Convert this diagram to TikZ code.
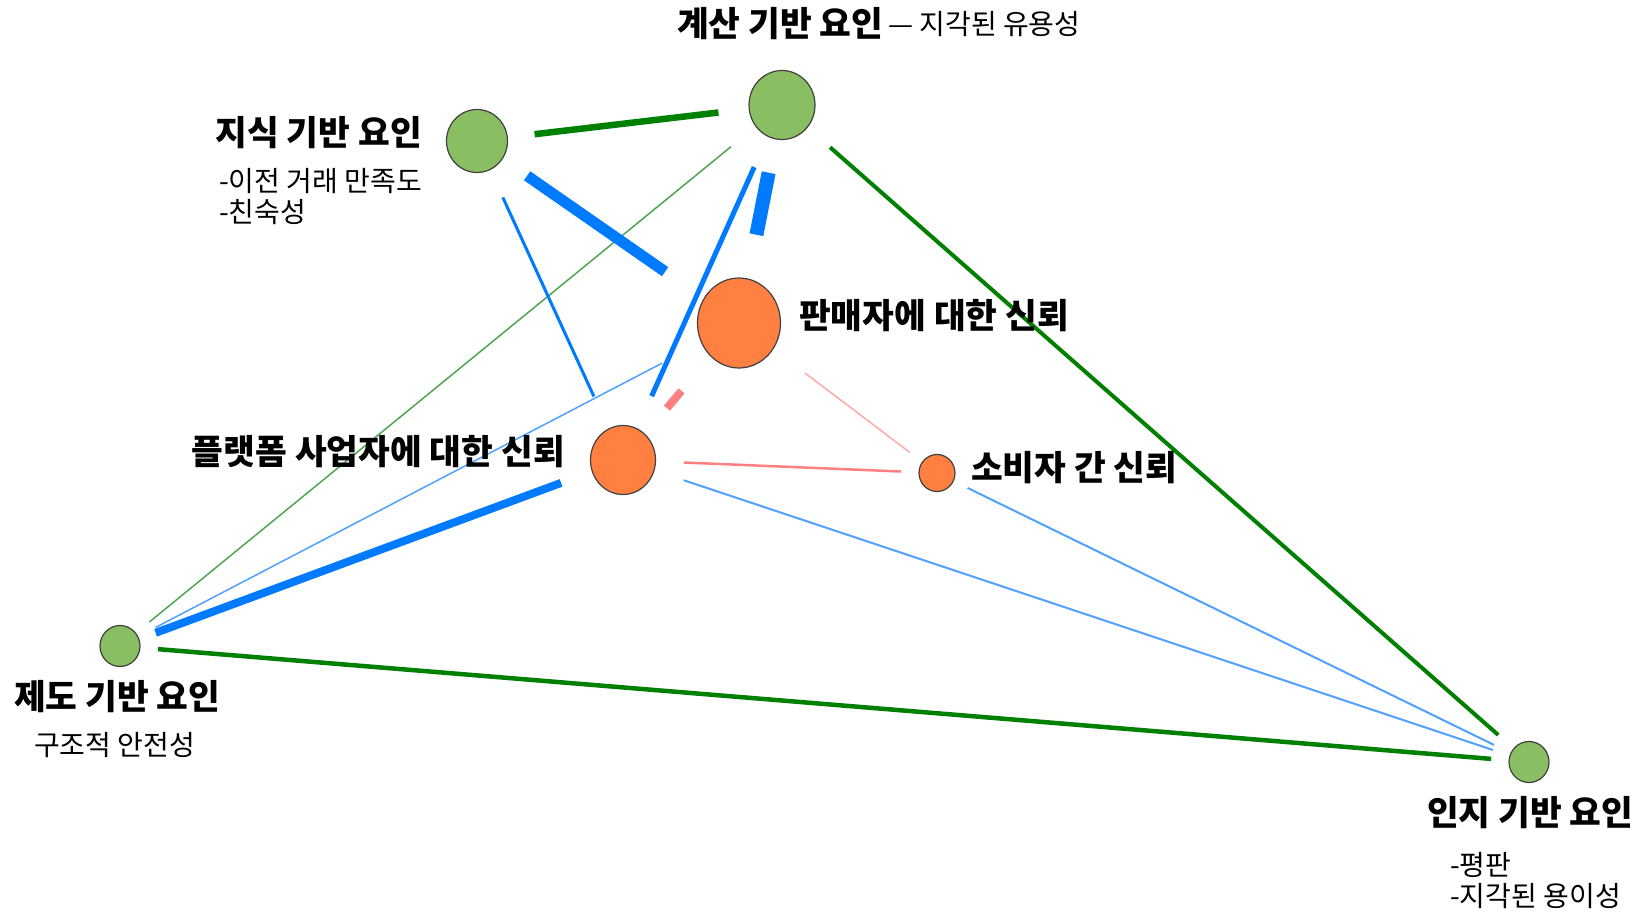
\documentclass[tikz,border=0pt]{standalone}
\usepackage{fontspec}
\setmainfont{Noto Sans CJK KR}
\usetikzlibrary{shapes.geometric}
\definecolor{facgreen}{RGB}{138,190,98}
\definecolor{trustorange}{RGB}{255,128,64}
\definecolor{edgegreen}{RGB}{0,128,0}
\definecolor{thingreen}{RGB}{80,165,80}
\definecolor{edgeblue}{RGB}{0,122,255}
\definecolor{lightblue}{RGB}{80,160,255}
\definecolor{edgepink}{RGB}{255,128,128}
\definecolor{lightpink}{RGB}{255,170,170}
\tikzset{
  fac/.style={ellipse, draw=black!75, line width=1.2pt, fill=facgreen, inner sep=0pt},
  trust/.style={ellipse, draw=black!75, line width=1.2pt, fill=trustorange, inner sep=0pt},
  title/.style={font=\fontsize{34.5}{40}\selectfont\bfseries, inner sep=0pt},
  note/.style={font=\fontsize{28}{31}\selectfont, inner sep=0pt, align=left}
}

\begin{document}
\begin{tikzpicture}[x=1pt, y=-1pt]
\useasboundingbox (0, 0) rectangle (1638, 919);
\node[fac, minimum width=66pt, minimum height=69pt] (calc) at (782, 105) {};
\node[fac, minimum width=61pt, minimum height=63pt] (know) at (477, 141) {};
\node[trust, minimum width=83pt, minimum height=90pt] (sell) at (739, 323) {};
\node[trust, minimum width=65pt, minimum height=69pt] (plat) at (623, 460) {};
\node[trust, minimum width=36pt, minimum height=37pt] (cons) at (937, 473) {};
\node[fac, minimum width=40pt, minimum height=41pt] (inst) at (120, 646) {};
\node[fac, minimum width=40pt, minimum height=41pt] (cogn) at (1529, 762) {};
\draw[edgegreen, line width=6.5pt, shorten <=58pt, shorten >=64pt] (know.center) -- (calc.center);
\draw[edgegreen, line width=4pt, shorten <=64pt, shorten >=41pt] (calc.center) -- (cogn.center);
\draw[thingreen, line width=1.5pt, shorten <=66pt, shorten >=38pt] (calc.center) -- (inst.center);
\draw[edgeblue, line width=5pt, shorten <=68pt, shorten >=70pt] (calc.center) -- (plat.center);
\draw[edgeblue, line width=14pt, shorten <=69pt, shorten >=90pt] (calc.center) -- (sell.center);
\draw[edgeblue, line width=11pt, shorten <=61pt, shorten >=90pt] (know.center) -- (sell.center);
\draw[edgeblue, line width=3pt, shorten <=62pt, shorten >=70pt] (know.center) -- (plat.center);
\draw[edgeblue, line width=8pt, shorten <=38pt, shorten >=66pt] (inst.center) -- (plat.center);
\draw[lightblue, line width=1.5pt, shorten <=40pt, shorten >=87pt] (inst.center) -- (sell.center);
\draw[edgepink, line width=8pt, shorten <=68pt, shorten >=89pt] (plat.center) -- (sell.center);
\draw[lightpink, line width=1.5pt, shorten <=83pt, shorten >=34pt] (sell.center) -- (cons.center);
\draw[edgepink, line width=2.5pt, shorten <=61pt, shorten >=36pt] (plat.center) -- (cons.center);
\draw[lightblue, line width=2pt, shorten <=64pt, shorten >=38pt] (plat.center) -- (cogn.center);
\draw[lightblue, line width=2pt, shorten <=34pt, shorten >=39pt] (cons.center) -- (cogn.center);
\draw[edgegreen, line width=4.5pt, shorten <=38pt, shorten >=38pt] (inst.center) -- (cogn.center);
\node[title, anchor=west] (calcT) at (677, 24) {계산 기반 요인};
\node[note, anchor=west] (calcS) at (888, 24) {— 지각된 유용성};
\node[title, anchor=east] (knowT) at (422, 133) {지식 기반 요인};
\node[note, anchor=west] (knowS) at (219, 197) {-이전 거래 만족도\\-친숙성};
\node[title, anchor=west] (sellT) at (799, 316) {판매자에 대한 신뢰};
\node[title, anchor=east] (platT) at (565, 452) {플랫폼 사업자에 대한 신뢰};
\node[title, anchor=west] (consT) at (971, 468) {소비자 간 신뢰};
\node[title, anchor=west] (instT) at (14, 697) {제도 기반 요인};
\node[note, anchor=west] (instS) at (34, 745) {구조적 안전성};
\node[title, anchor=west] (cognT) at (1427, 813) {인지 기반 요인};
\node[note, anchor=west] (cognS) at (1450, 881) {-평판\\-지각된 용이성};
\end{tikzpicture}
\end{document}
